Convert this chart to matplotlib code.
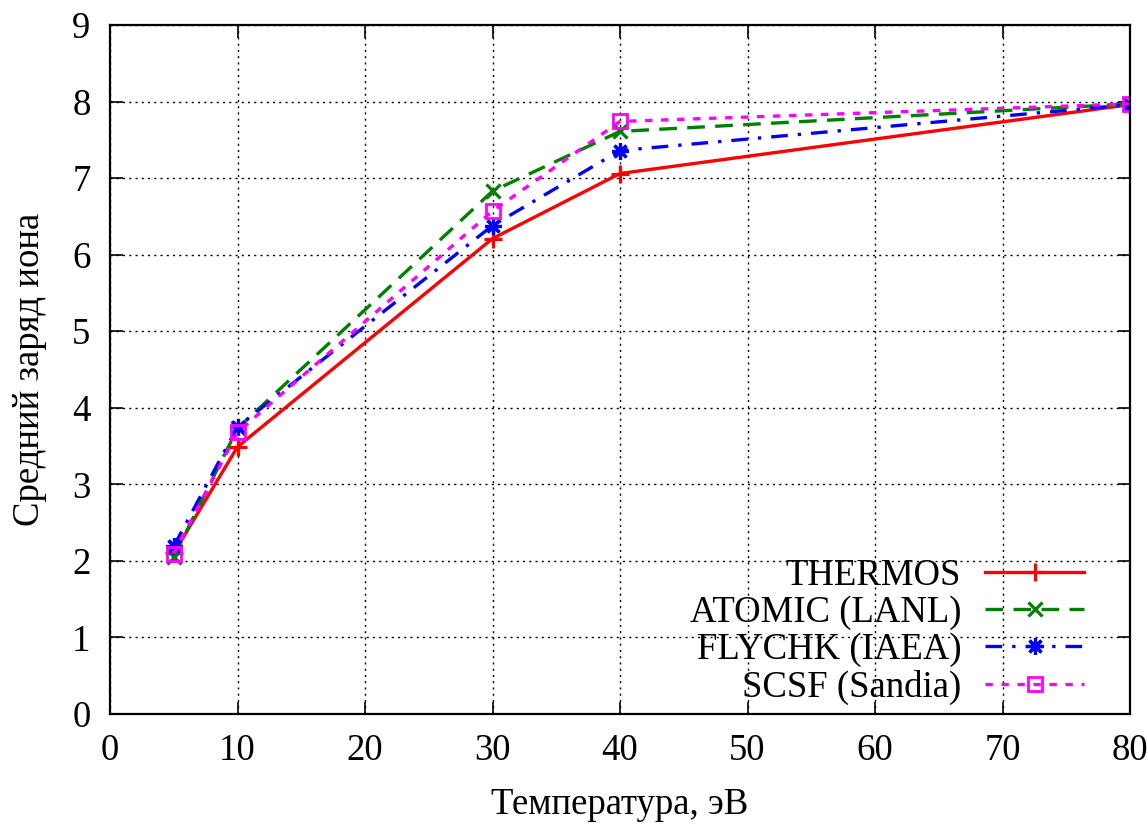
import numpy as np
import matplotlib
matplotlib.use("Agg")
import matplotlib.pyplot as plt

# temperatures, eV
temp = [5, 10, 30, 40, 80]

# mean ion charge per code
thermos = [2.10, 3.49, 6.21, 7.06, 7.96]
atomic = [2.05, 3.73, 6.83, 7.61, 7.97]
flychk = [2.19, 3.75, 6.38, 7.36, 7.96]
scsf = [2.09, 3.68, 6.57, 7.74, 7.97]

labels = ["THERMOS", "ATOMIC (LANL)", "FLYCHK (IAEA)", "SCSF (Sandia)"]

plt.rcParams['font.family'] = ['Liberation Serif', 'DejaVu Serif']
plt.rcParams['font.size'] = 26.5

fig = plt.figure(figsize=(11.48, 8.25), dpi=100)
ax = fig.add_axes([110/1148, 1 - 714/825, 1020/1148, 689/825])

ax.plot(temp, thermos, color='#ff0000', lw=2.4, ls='-',
        marker='+', ms=13, mew=2.3, label=labels[0])
ax.plot(temp, atomic, color='#008000', lw=2.4, ls=(0, (5.3, 3.1)),
        marker='x', ms=10, mew=2.3, label=labels[1])
ax.plot(temp, flychk, color='#0000ff', lw=2.4, ls=(0, (5, 3, 1, 3)),
        marker=(8, 2, 0), ms=12, mew=2.3, label=labels[2])
ax.plot(temp, scsf, color='#ff00ff', lw=2.4, ls=(0, (2.2, 2.6)),
        marker='s', ms=10, mew=2.0, mfc='none', label=labels[3])

ax.set_xlim(0, 80)
ax.set_ylim(0, 9)
ax.set_xticks(np.arange(0, 81, 10))
ax.set_yticks(np.arange(0, 10, 1))
ax.grid(True, color='black', ls=(0, (1.5, 3)), lw=1.0)
ax.tick_params(direction='in', length=9, width=1.2, top=True, right=True, pad=14)
for s in ax.spines.values():
    s.set_linewidth(1.6)

ax.set_xlabel("Температура, эВ", labelpad=14)
ax.set_ylabel("Средний заряд иона", labelpad=18)

leg = ax.legend(loc='lower right', bbox_to_anchor=(0.977, -0.019),
                markerfirst=False, frameon=False, handlelength=2.7,
                labelspacing=0.07, handletextpad=0.65, numpoints=1,
                borderaxespad=0.2)

fig.savefig("out.png", dpi=100)
